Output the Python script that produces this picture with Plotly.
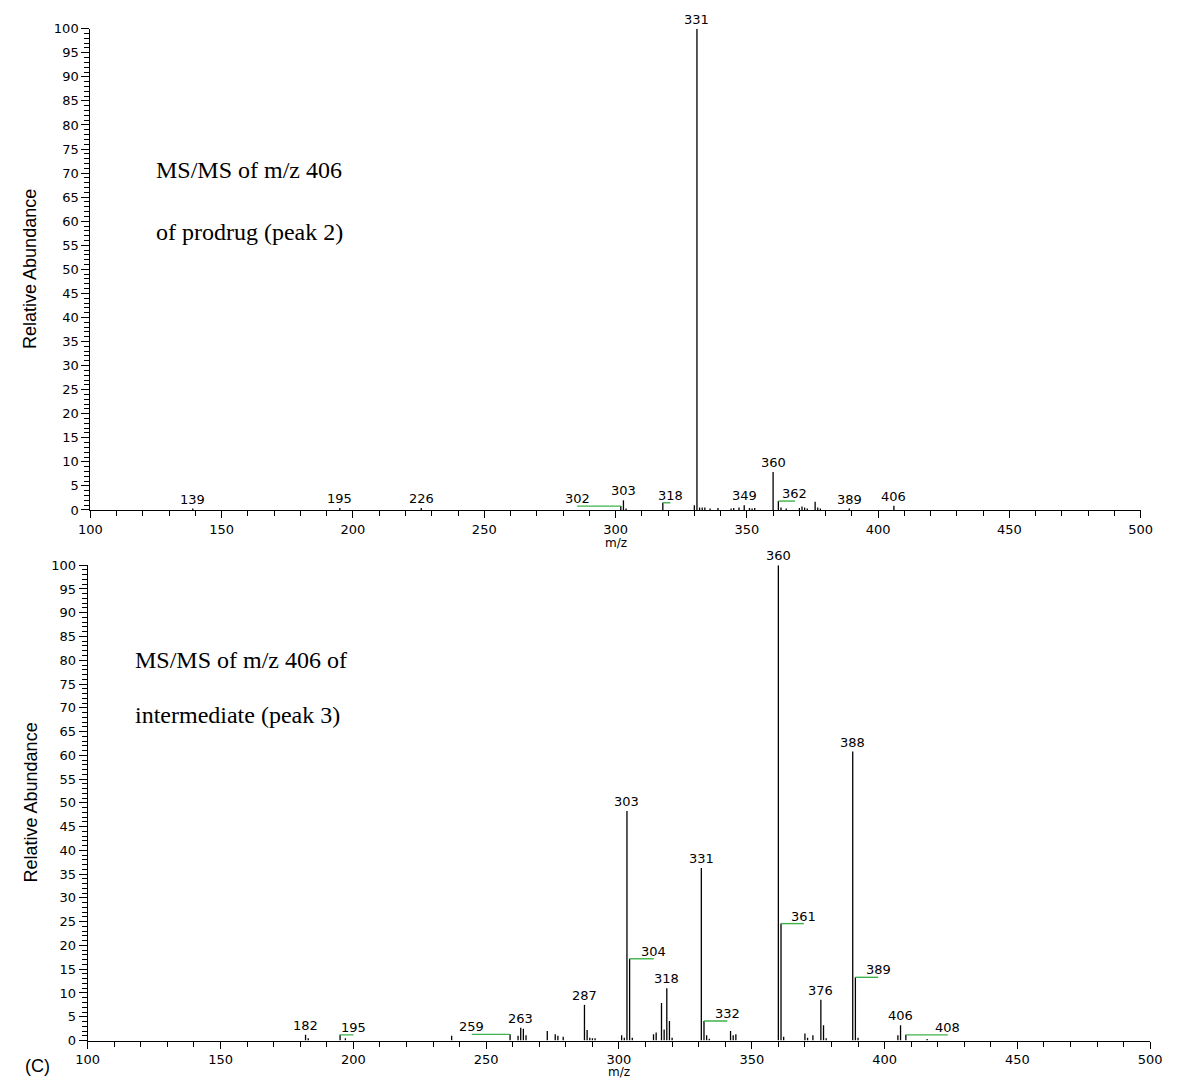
import plotly.graph_objects as go

# ---------------- data ----------------
top_mz = [139, 195, 226, 302, 303, 304, 318, 330, 331, 332, 333, 334, 336, 339,
          344, 345, 347, 349, 351, 352, 353, 360, 362, 363, 365, 370, 371, 372,
          373, 376, 377, 378, 389, 406]
top_int = [0.3, 0.4, 0.4, 0.8, 2.0, 0.3, 1.5, 1.0, 100, 0.5, 0.5, 0.5, 0.3, 0.4,
           0.3, 0.4, 0.5, 1.0, 0.4, 0.3, 0.4, 7.9, 1.85, 0.5, 0.3, 0.4, 0.7, 0.5,
           0.3, 1.7, 0.5, 0.3, 0.3, 0.9]
top_labeled = [139, 195, 226, 302, 303, 318, 331, 349, 360, 362, 389, 406]

bot_mz = [182, 183, 195, 197, 237, 259, 262, 263, 264, 265, 273, 276, 277, 279,
          287, 288, 289, 290, 291, 301, 302, 303, 304, 305, 313, 314, 316, 317,
          318, 319, 320, 331, 332, 333, 334, 342, 343, 344, 360, 361, 362, 370,
          371, 373, 376, 377, 378, 388, 389, 390, 405, 406, 408, 416]
bot_int = [1.2, 0.5, 1.2, 0.5, 1.0, 1.3, 1.0, 2.7, 2.5, 1.1, 2.0, 1.3, 1.0, 0.8,
           7.5, 2.2, 0.6, 0.5, 0.5, 1.1, 0.6, 48.3, 17.2, 0.6, 1.3, 1.7, 7.9, 2.3,
           11.0, 4.1, 0.6, 36.3, 4.1, 1.1, 0.4, 2.0, 1.1, 1.3, 100, 24.6, 0.8, 1.5,
           0.6, 1.1, 8.6, 3.2, 0.5, 60.8, 13.3, 0.6, 1.1, 3.2, 1.2, 0.3]
bot_labeled = [182, 195, 259, 263, 287, 303, 304, 318, 331, 332, 360, 361, 376,
               388, 389, 406, 408]

x_ticks = [100, 150, 200, 250, 300, 350, 400, 450, 500]
y_ticks = list(range(0, 101, 5))

top_text = ["MS/MS of m/z 406", "of prodrug (peak 2)"]
bot_text = ["MS/MS of m/z 406 of", "intermediate (peak 3)"]

# ---------------- layout helpers ----------------
W, H = 1188, 1087
# label offsets (m/z units) for labels displaced with a green leader
top_leaders = {302: -16.6, 318: 2.9, 362: 6.3}
bot_leaders = {195: 5.0, 259: -14.4, 304: 9.1, 332: 8.8, 361: 8.6, 389: 8.6, 408: 15.8}

NUM_FONT = dict(family="DejaVu Sans", size=13, color="black")
TICK_FONT = dict(family="DejaVu Sans", size=13, color="black")


def stick(mz, inten):
    xs, ys = [], []
    for m, i in zip(mz, inten):
        xs += [m, m, None]
        ys += [0, i, None]
    return xs, ys


fig = go.Figure()
for mz, it, xa, ya in [(top_mz, top_int, "x", "y"), (bot_mz, bot_int, "x2", "y2")]:
    xs, ys = stick(mz, it)
    fig.add_trace(go.Scatter(x=xs, y=ys, mode="lines", xaxis=xa, yaxis=ya,
                             line=dict(color="black", width=1.3),
                             hoverinfo="skip", showlegend=False))

annotations = []
shapes = []
for mz, it, labeled, leaders, xr, yr in [
        (top_mz, top_int, top_labeled, top_leaders, "x", "y"),
        (bot_mz, bot_int, bot_labeled, bot_leaders, "x2", "y2")]:
    lookup = dict(zip(mz, it))
    for m in labeled:
        level = lookup[m]
        if m in leaders:
            lx = m + leaders[m]
            shapes.append(dict(type="line", xref=xr, yref=yr, x0=m, x1=lx,
                               y0=level, y1=level,
                               line=dict(color="#3cb34a", width=1.4)))
            annotations.append(dict(x=lx, y=level, xref=xr, yref=yr, text=str(m),
                                    showarrow=False, xanchor="center",
                                    yanchor="bottom", yshift=-2, font=NUM_FONT))
        else:
            annotations.append(dict(x=m, y=level, xref=xr, yref=yr, text=str(m),
                                    showarrow=False, xanchor="center",
                                    yanchor="bottom", yshift=0, font=NUM_FONT))


def px2x(p):
    return p / W


def py2y(p):
    return 1 - p / H


SERIF = dict(family="Liberation Serif", size=24, color="black")
for i, t in enumerate(top_text):
    annotations.append(dict(x=px2x(145), y=py2y([165, 228][i]), xref="paper", yref="paper",
                            text=t, showarrow=False, xanchor="left", yanchor="middle",
                            font=SERIF))
for i, t in enumerate(bot_text):
    annotations.append(dict(x=px2x(123), y=py2y([662, 718][i]), xref="paper", yref="paper",
                            text=t, showarrow=False, xanchor="left", yanchor="middle",
                            font=SERIF))

SANS = dict(family="Liberation Sans", size=18, color="black")
for yc in [266, 807]:
    annotations.append(dict(x=px2x(19), y=py2y(yc), xref="paper", yref="paper",
                            text="Relative Abundance", textangle=-90, showarrow=False,
                            xanchor="center", yanchor="middle", font=SANS))
for xc, yc in [(616, 544), (620, 1080)]:
    annotations.append(dict(x=px2x(xc), y=py2y(yc), xref="paper", yref="paper",
                            text="m/z", showarrow=False, xanchor="center",
                            yanchor="middle", font=dict(family="DejaVu Sans", size=12,
                                                        color="black")))
annotations.append(dict(x=px2x(26), y=py2y(1074), xref="paper", yref="paper",
                        text="(C)", showarrow=False, xanchor="center", yanchor="middle",
                        font=SANS))


def xaxis(domain, anchor):
    return dict(domain=domain, anchor=anchor, range=[100, 500], tickvals=x_ticks,
                ticks="outside", ticklen=7, tickwidth=1, tickcolor="black",
                minor=dict(dtick=10, tick0=100, ticks="outside", ticklen=5,
                           tickwidth=1, tickcolor="black"),
                showline=True, linecolor="black", linewidth=1.2, showgrid=False,
                zeroline=False, tickfont=TICK_FONT, fixedrange=True)


def yaxis(domain, anchor):
    return dict(domain=domain, anchor=anchor, range=[0, 100], tickvals=y_ticks,
                ticks="outside", ticklen=8, tickwidth=1, tickcolor="black",
                minor=dict(dtick=1, tick0=0, ticks="outside", ticklen=5,
                           tickwidth=1, tickcolor="black"),
                showline=True, linecolor="black", linewidth=1.2, showgrid=False,
                zeroline=False, tickfont=TICK_FONT, fixedrange=True)


fig.update_layout(
    width=W, height=H, autosize=False,
    margin=dict(l=0, r=0, t=0, b=0),
    paper_bgcolor="white", plot_bgcolor="white",
    showlegend=False,
    xaxis=xaxis([px2x(80), px2x(1152)], "y"),
    yaxis=yaxis([py2y(510), py2y(22)], "x"),
    xaxis2=xaxis([px2x(77.3), px2x(1161.7)], "y2"),
    yaxis2=yaxis([py2y(1048), py2y(566)], "x2"),
    annotations=annotations,
    shapes=shapes,
)

fig.write_html("out.html",
               config={"displayModeBar": False},
               post_script="document.body.style.margin='0px';"
                           "document.body.style.overflow='hidden';")
